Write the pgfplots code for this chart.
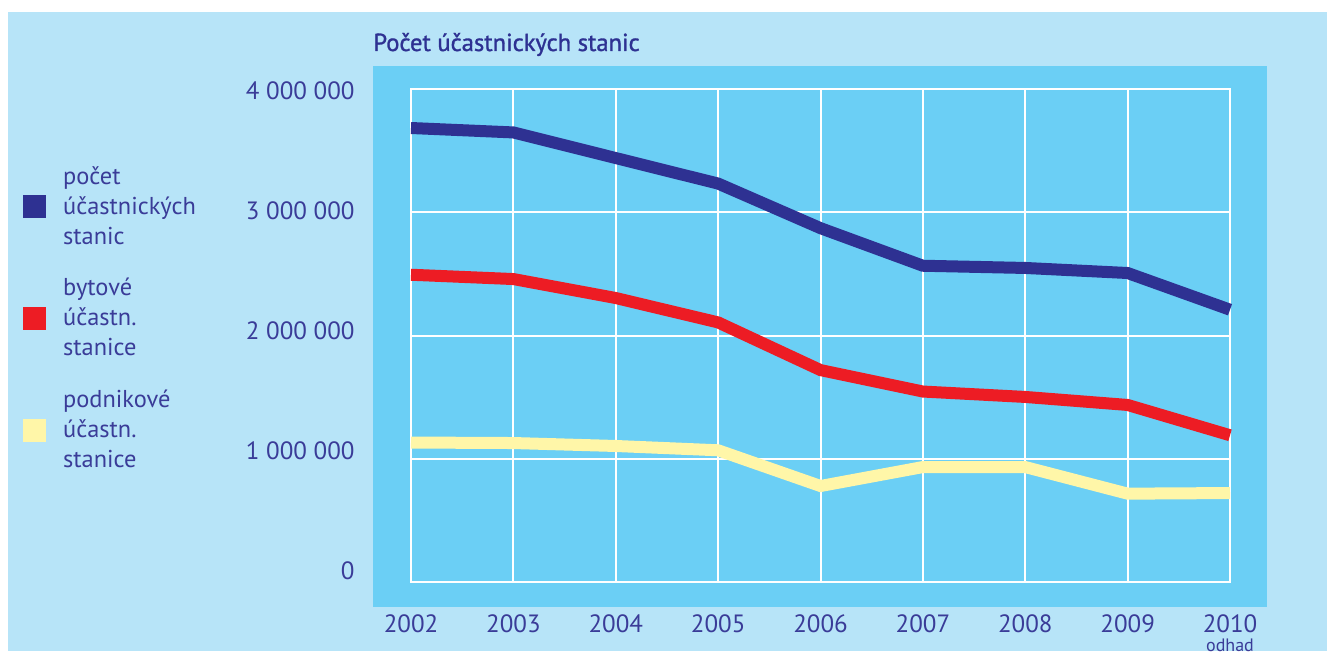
\documentclass[border=0pt]{standalone}
\usepackage{fontspec}
\setmainfont{PT Sans}
\newfontfamily\titlefont{PT Sans}[FakeBold=1.2]
\usepackage{pgfplots}
\pgfplotsset{compat=1.18}
\definecolor{outerbg}{HTML}{B7E4F8}
\definecolor{innerbg}{HTML}{6BCFF5}
\definecolor{dkblue}{HTML}{2E3192}
\definecolor{txtblue}{HTML}{3A3C98}
\definecolor{redl}{HTML}{ED1C24}
\definecolor{yell}{HTML}{FFF6A8}
\begin{document}
\begin{tikzpicture}
\fill[white] (0,0) rectangle (663.5pt,325.5pt);
\fill[outerbg] (4pt,0) rectangle (663.5pt,319.5pt);
\fill[innerbg] (186.5pt,22pt) rectangle (633.5pt,292.5pt);
\node[anchor=base west, text=dkblue, font=\fontsize{12.3}{15}\selectfont\titlefont, inner sep=0pt] at (186.5pt,300pt) {Počet účastnických stanic};
\begin{axis}[
  at={(205.5pt,34.5pt)}, anchor=south west,
  scale only axis, width=409.5pt, height=246.4pt,
  xmin=2002, xmax=2010, ymin=0, ymax=4000000,
  clip=false,
  scaled y ticks=false, scaled x ticks=false,
  axis line style={white, line width=1pt},
  major tick length=0pt, minor tick length=0pt,
  tick style={draw=none},
  xtick={2002,2003,2004,2005,2006,2007,2008,2009,2010},
  xticklabels={2002,2003,2004,2005,2006,2007,2008,2009,{2010\\[-4.5pt]{\fontsize{9}{10}\selectfont odhad}}},
  xmajorgrids=true,
  ytick={91700,1065700,2039800,3013800,3987800},
  yticklabels={0,1 000 000,2 000 000,3 000 000,4 000 000},
  minor ytick={0,1000000,2000000,3000000,4000000},
  ymajorgrids=false, yminorgrids=true,
  grid style={white, line width=1pt},
  minor grid style={white, line width=1pt},
  xticklabel style={anchor=north, inner sep=0pt, yshift=-16pt, align=center, text=txtblue, font=\fontsize{12.5}{14}\selectfont},
  yticklabel style={anchor=east, inner sep=0pt, xshift=-28pt, text=txtblue, font=\fontsize{12.5}{14}\selectfont},
  legend style={at={(-0.47375,0.8440)}, anchor=north west, draw=none, fill=none,
    font=\fontsize{12.2}{15}\selectfont, text=txtblue,
    cells={align=left, anchor=west}, nodes={inner sep=0pt},
    row sep=15.5pt, column sep=8.4pt, inner sep=0pt},
  legend image code/.code={\fill[#1, draw=none] (0pt,-5.75pt) rectangle (11.5pt,5.75pt);},
  every axis plot/.append style={line width=6pt, line cap=butt, line join=miter},
]
\addplot[color=dkblue] coordinates {
 (2002,3685000) (2003,3649000) (2004,3441000) (2005,3234000) (2006,2872000)
 (2007,2567000) (2008,2549000) (2009,2508000) (2010,2210000)};
\addlegendentry{počet\\účastnických\\stanic}
\addplot[color=redl] coordinates {
 (2002,2494000) (2003,2459000) (2004,2305000) (2005,2107000) (2006,1720000)
 (2007,1546000) (2008,1502000) (2009,1437000) (2010,1191000)};
\addlegendentry{bytové\\účastn.\\stanice}
\addplot[color=yell] coordinates {
 (2002,1132000) (2003,1128000) (2004,1104000) (2005,1069000) (2006,779000)
 (2007,933000) (2008,933000) (2009,717000) (2010,722000)};
\addlegendentry{podnikové\\účastn.\\stanice}
\end{axis}
\path (0,0) rectangle (663.5pt,325.5pt);
\end{tikzpicture}
\end{document}
